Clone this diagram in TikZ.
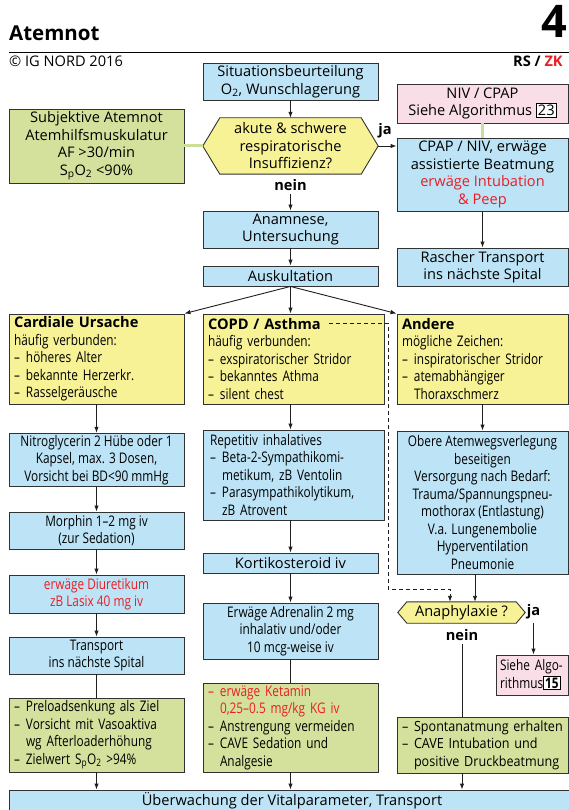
\documentclass[tikz,border=0pt]{standalone}
\usepackage{fontspec}
\setmainfont{Open Sans}
\newfontfamily\condfont[FakeStretch=0.81]{Open Sans}
\newfontfamily\semicond[FakeStretch=0.9]{Open Sans}
\usepackage{xcolor}
\usetikzlibrary{calc,backgrounds,arrows.meta}

\definecolor{boxblue}{RGB}{189,228,246}
\definecolor{boxyellow}{RGB}{247,242,150}
\definecolor{boxgreen}{RGB}{212,225,156}
\definecolor{boxpink}{RGB}{250,222,231}
\definecolor{linkgreen}{RGB}{203,223,150}
\definecolor{alarmred}{RGB}{236,28,36}
\definecolor{edge}{RGB}{50,50,50}
\definecolor{linecol}{RGB}{30,30,30}

\newcommand{\dsh}{\makebox[12pt][l]{–}}
\newcommand{\ind}{\hspace*{12pt}}
\newcommand{\spo}{S\textsubscript{p}O\textsubscript{2}}
\newcommand{\algref}[1]{{\setlength\fboxsep{1pt}\setlength\fboxrule{1pt}\fcolorbox{black}{white}{#1}}}

\tikzset{
    box/.style={draw=edge, line width=0.9pt, inner xsep=5pt, inner ysep=2pt, align=center},
    bluebox/.style={box, fill=boxblue},
    yellowbox/.style={box, fill=boxyellow},
    greenbox/.style={box, fill=boxgreen},
    pinkbox/.style={box, fill=boxpink},
    dims/.style 2 args={minimum width=#1pt, minimum height=#2pt},
    leftbox/.style={align=left, text width=#1pt},
    cond/.style={font=\condfont\fontsize{14.6}{17.5}\selectfont},
    hexa/.style={draw=edge, line width=0.9pt, fill=boxyellow},
    arr/.style={draw=linecol, line width=0.9pt, -{Latex[length=6pt,width=4.5pt]}},
    lineonly/.style={draw=linecol, line width=0.9pt},
    link/.style={draw=linkgreen, line width=3pt},
    answer/.style={font=\bfseries\fontsize{14.6}{17.5}\selectfont},
}

\begin{document}
\begin{tikzpicture}[x=1pt,y=-1pt, font=\fontsize{14.6}{17.5}\selectfont]
  \useasboundingbox (0,0) rectangle (569,810);

  % 見出し
  \node[anchor=base west, inner sep=0pt, font=\bfseries\fontsize{20.5}{20}\selectfont] (title) at (9,41) {Atemnot};
  \node[anchor=base west, inner sep=0pt, font=\bfseries\fontsize{45}{45}\selectfont] (algno) at (541,38) {4};
  \draw[line width=0.9pt] (9,52) -- (569,52);
  \node[anchor=base west, inner sep=0pt] (copy) at (9,67) {© IG NORD 2016};
  \node[anchor=base west, inner sep=0pt, font=\bfseries\fontsize{14.6}{17.5}\selectfont] (team) at (513,67) {RS / \textcolor{alarmred}{ZK}};

  % 上段
  \node[bluebox, dims={175}{37}] (sit) at (290.5,81.5) {Situationsbeurteilung\\O\textsubscript{2}, Wunschlagerung};
  \node[align=center, dims={175}{56}, inner sep=0pt] (acute) at (290.5,146) {akute \& schwere\\respiratorische\\Insuffizienz?};
  \node[greenbox, dims={175}{74}] (subj) at (96.5,146) {Subjektive Atemnot\\Atemhilfsmuskulatur\\AF >30/min\\\spo{} <90\%};
  \node[pinkbox, dims={171}{39}] (niv) at (482.5,103.5) {NIV / CPAP\\Siehe Algorithmus \algref{23}};
  \node[bluebox, dims={171}{73}] (cpap) at (482.5,174.5) {CPAP / NIV, erwäge\\assistierte Beatmung\\\textcolor{alarmred}{erwäge Intubation}\\\textcolor{alarmred}{\& Peep}};
  \node[bluebox, dims={171}{38}] (rasch) at (482.5,267) {Rascher Transport\\ins nächste Spital};
  \node[bluebox, dims={175}{37}] (anam) at (290.5,229.5) {Anamnese,\\Untersuchung};
  \node[bluebox, dims={175}{20}] (ausk) at (290.5,276) {Auskultation};
  \node[answer] (acja) at (385,131) {ja};
  \node[answer] (acnein) at (290.5,185) {nein};

  % 三つの原因
  \node[yellowbox, cond, leftbox=165, minimum height=90pt] (card) at (96.5,359) {{\rmfamily\bfseries Cardiale Ursache}\\häufig verbunden:\\\dsh höheres Alter\\\dsh bekannte Herzerkr.\\\dsh Rasselgeräusche};
  \node[yellowbox, cond, leftbox=171, minimum height=90pt] (copd) at (293.5,359) {{\rmfamily\bfseries COPD / Asthma}\\häufig verbunden:\\\dsh exspiratorischer Stridor\\\dsh bekanntes Athma\\\dsh silent chest};
  \node[yellowbox, cond, leftbox=161, minimum height=90pt] (andere) at (482.5,359) {{\rmfamily\bfseries Andere}\\mögliche Zeichen:\\\dsh inspiratorischer Stridor\\\dsh atemabhängiger\\\ind Thoraxschmerz};
  \coordinate (copdd) at (329,323);
  \coordinate (dashturn) at (388,589);

  % 左列
  \node[bluebox, cond, dims={175}{52}] (nitro) at (96.5,460) {Nitroglycerin 2 Hübe oder 1\\Kapsel, max. 3 Dosen,\\Vorsicht bei BD<90 mmHg};
  \node[bluebox, cond, dims={175}{37}] (morph) at (96.5,530.5) {Morphin 1–2 mg iv\\(zur Sedation)};
  \node[bluebox, cond, dims={175}{38}, text=alarmred] (diur) at (96.5,594) {erwäge Diuretikum\\zB Lasix 40 mg iv};
  \node[bluebox, cond, dims={175}{37}] (trans) at (96.5,655.5) {Transport\\ins nächste Spital};
  \node[greenbox, cond, leftbox=165, minimum height=74pt] (gleft) at (96.5,735) {\dsh Preloadsenkung als Ziel\\\dsh Vorsicht mit Vasoaktiva\\\ind wg Afterloaderhöhung\\\dsh Zielwert \spo{} >94\%};

  % 中央列
  \node[bluebox, cond, leftbox=167, minimum height=90pt, inner xsep=7pt] (rep) at (293.5,475) {Repetitiv inhalatives\\\dsh Beta-2-Sympathikomi-\\\ind metikum, zB Ventolin\\\dsh Parasympathikolytikum,\\\ind zB Atrovent};
  \node[bluebox, dims={175}{20}] (kort) at (290.5,563) {Kortikosteroid iv};
  \node[bluebox, cond, dims={175}{56}] (adren) at (290.5,631) {Erwäge Adrenalin 2 mg\\inhalativ und/oder\\10 mcg-weise iv};
  \node[greenbox, cond, leftbox=165, minimum height=89pt] (gmid) at (290.5,727.5) {{\color{alarmred}\dsh erwäge Ketamin\\\ind 0,25–0.5 mg/kg KG iv}\\\dsh Anstrengung vermeiden\\\dsh CAVE Sedation und\\\ind Analgesie};

  % 右列
  \node[bluebox, cond, dims={171}{143}] (obere) at (482.5,502.5) {Obere Atemwegsverlegung\\beseitigen\\Versorgung nach Bedarf:\\Trauma/Spannungspneu-\\mothorax (Entlastung)\\V.a. Lungenembolie\\Hyperventilation\\Pneumonie};
  \node[align=center, dims={127}{21}, inner sep=0pt] (anaph) at (461.5,612.5) {Anaphylaxie ?};
  \node[answer] (anja) at (533.5,612) {ja};
  \node[answer] (annein) at (462,635) {nein};
  \node[pinkbox, cond, leftbox=64, minimum height=40pt, inner xsep=4pt] (algo) at (532,675) {Siehe Algo-\\rithmus\algref{\textbf{15}}};
  \node[greenbox, leftbox=161, minimum height=56pt, font=\semicond\fontsize{14}{17.5}\selectfont] (gright) at (482.5,745) {\dsh Spontanatmung erhalten\\\dsh CAVE Intubation und\\\ind positive Druckbeatmung};

  % 下の帯
  \node[bluebox, dims={566}{22}] (bar) at (292,801) {Überwachung der Vitalparameter, Transport};

  % 六角形
  \begin{pgfonlayer}{background}
    \foreach \h/\d in {acute/17, anaph/9} {
      \filldraw[hexa] ([xshift=\d pt]\h.north west) -- ([xshift=-\d pt]\h.north east) -- (\h.east)
        -- ([xshift=-\d pt]\h.south east) -- ([xshift=\d pt]\h.south west) -- (\h.west) -- cycle;
    }
  \end{pgfonlayer}

  % 矢印
  \draw[link] (subj.east) -- (acute.west);
  \draw[link] (niv.south) -- (cpap.north);
  \draw[arr] (sit.south) -- (acute.north);
  \draw[arr] (acute.east) -- (acute.east -| cpap.west);
  \draw[arr] (cpap.south) -- (rasch.north);
  \draw[arr] (acnein.south) -- (anam.north);
  \draw[arr] (anam.south) -- (ausk.north);
  \draw[arr] (ausk.south) -- (card.north east);
  \draw[arr] (ausk.south) -- (ausk.south |- copd.north);
  \draw[arr] (ausk.south) -- (andere.north west);

  \foreach \a/\b in {card/nitro, nitro/morph, morph/diur, diur/trans} {
    \draw[arr] (\a.south) -- (\b.north);
  }
  \draw[lineonly] (trans.south) -- (gleft.north);
  \draw[arr] (gleft.south) -- (gleft.south |- bar.north);

  \draw[arr] (copd.south -| kort.north) -- (rep.north -| kort.north);
  \draw[arr] (rep.south -| kort.north) -- (kort.north);
  \draw[arr] (kort.south) -- (adren.north);
  \draw[lineonly] (adren.south) -- (gmid.north);
  \draw[arr] (gmid.south) -- (gmid.south |- bar.north);

  \draw[arr] (andere.south) -- (obere.north);
  \draw[arr] ([xshift=-7.5pt]obere.south) -- ([xshift=13.5pt]anaph.north);
  \draw[arr, dash pattern=on 4pt off 3pt] (copdd) -| (dashturn) -| ([xshift=-11.5pt]anaph.north);
  \draw[arr] (anja.south) -- (anja.south |- algo.north);
  \draw[lineonly] (annein.south) -- (annein.south |- gright.north);
  \draw[arr] (gright.south -| annein.south) -- (bar.north -| annein.south);
\end{tikzpicture}
\end{document}
